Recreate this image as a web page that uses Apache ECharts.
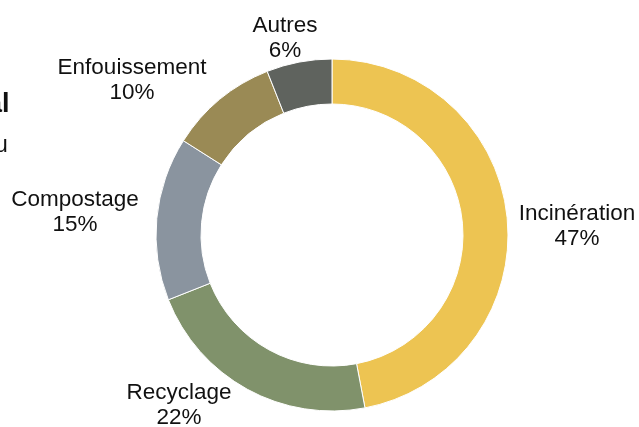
<!DOCTYPE html>
<html>
<head>
<meta charset="utf-8">
<script src="https://cdn.jsdelivr.net/npm/echarts@6/dist/echarts.min.js"></script>
<style>
html,body{margin:0;padding:0;background:#fff;}
#chart{width:639px;height:427px;}
</style>
</head>
<body>
<div id="chart"></div>
<script>
// Data
const categories = ['Incinération', 'Recyclage', 'Compostage', 'Enfouissement', 'Autres'];
const shares = [47, 22, 15, 10, 6];

// Styles (kept separate from data)
const sliceColors = ['#edc452', '#80926b', '#8a949f', '#9a8a55', '#5f635e'];
const labelCenters = [[577, 226], [179, 405], [75, 212], [132, 80], [285, 38]];

const chart = echarts.init(document.getElementById('chart'));
chart.setOption({
  animation: false,
  backgroundColor: '#ffffff',
  graphic: [
    { type: 'text', left: -13, top: 91, style: { text: 'al', font: 'bold 27px "Liberation Sans", Arial, sans-serif', fill: '#111' } },
    { type: 'text', left: -5, top: 134, style: { text: 'u', font: '23px "Liberation Sans", Arial, sans-serif', fill: '#111' } }
  ],
  series: [{
    type: 'pie',
    center: [332, 235],
    radius: [131, 176],
    startAngle: 90,
    clockwise: true,
    avoidLabelOverlap: false,
    itemStyle: { borderColor: '#ffffff', borderWidth: 1 },
    label: {
      show: true,
      position: 'outside',
      formatter: '{b}\n{c}%',
      fontFamily: '"Liberation Sans", Arial, sans-serif',
      fontSize: 22.5,
      lineHeight: 25,
      color: '#111111',
      align: 'center'
    },
    labelLine: { show: false },
    labelLayout: function (p) {
      const c = labelCenters[p.dataIndex];
      return { x: c[0], y: c[1], align: 'center', verticalAlign: 'middle' };
    },
    emphasis: { disabled: true },
    data: categories.map((name, i) => ({
      name: name,
      value: shares[i],
      itemStyle: { color: sliceColors[i] }
    }))
  }]
});
</script>
</body>
</html>
